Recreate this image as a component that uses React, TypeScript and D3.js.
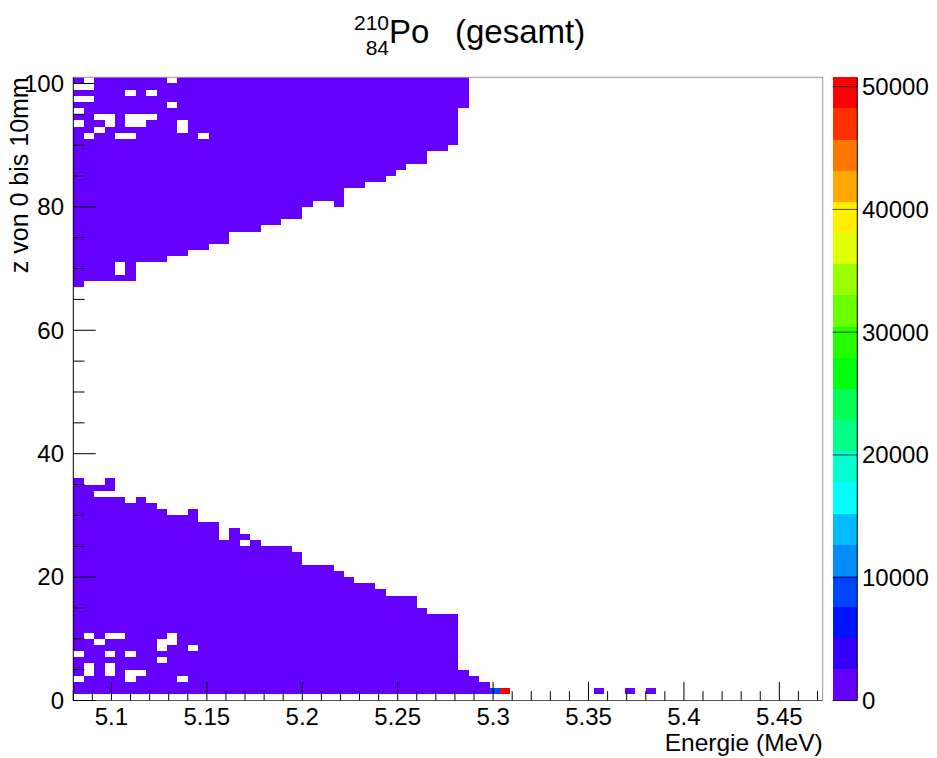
import * as d3 from 'd3';

// frame / palette geometry (pixels)
const W = 937, H = 758;
const frame = { left: 73.3, right: 822.7, top: 77.3, bottom: 700.5 };
const pal = { left: 832.5, right: 857.3 };
const font = 'Liberation Sans, Arial, Helvetica, sans-serif';

// binning
const xMin = 5.08;
const binW = 0.06 / 11;
const nBinsX = 72;
const zRange = 101;
const zMax = 50760;
const nContours = 20;

// upper block: [z bin, number of filled energy bins from the left]
const upperRowCounts = [
  [100, 38], [99, 38], [98, 38], [97, 38], [96, 38],
  [95, 37], [94, 37], [93, 37], [92, 37], [91, 37], [90, 37],
  [89, 36], [88, 34], [87, 34], [86, 32], [85, 31], [84, 30],
  [83, 28], [82, 26], [81, 26], [80, 23], [79, 22], [78, 22],
  [77, 20], [76, 18], [75, 15], [74, 15], [73, 13], [72, 11],
  [71, 9], [70, 6], [69, 6], [68, 6], [67, 1],
];

// lower block: highest filled z bin per energy bin (filled down to z bin 1)
const lowerColTops = [
  35, 34, 34, 35, 32, 31, 32, 31, 30, 29, 29, 30, 28, 28, 25, 27, 26, 25, 24, 24,
  24, 23, 21, 21, 21, 20, 19, 18, 18, 17, 16, 16, 16, 14, 13, 13, 13, 4, 3, 2,
];

// empty bins inside the blocks: [energy bin, z bin]
const holes = [
  [1, 100], [9, 100], [0, 99], [1, 99], [5, 98], [7, 98], [0, 97], [1, 97],
  [9, 96], [0, 95], [2, 94], [3, 94], [5, 94], [6, 94], [7, 94],
  [0, 93], [3, 93], [5, 93], [6, 93], [10, 93], [2, 92], [10, 92],
  [1, 91], [4, 91], [5, 91], [12, 91], [4, 70], [4, 69],
  [2, 33], [3, 33], [16, 25],
  [1, 10], [3, 10], [4, 10], [9, 10], [2, 9], [8, 9], [9, 9], [8, 8], [11, 8],
  [0, 7], [3, 7], [5, 7], [8, 6], [1, 5], [3, 5], [1, 4], [3, 4], [5, 4], [6, 4],
  [0, 3], [5, 3], [10, 3],
];

// single bins outside the blocks: [energy bin, z bin, counts]
const extraCells = [
  [25, 80, 1000], [40, 1, 9000], [41, 1, 49000],
  [50, 1, 1000], [53, 1, 1000], [55, 1, 1000],
];
const baseCount = 1000;

const xMajorTicks = [5.1, 5.15, 5.2, 5.25, 5.3, 5.35, 5.4, 5.45];
const xTickLabels = ['5.1', '5.15', '5.2', '5.25', '5.3', '5.35', '5.4', '5.45'];
const yMajorTicks = [0, 20, 40, 60, 80, 100];
const zTicks = [0, 10000, 20000, 30000, 40000, 50000];

function bandColor(band: number) {
  const j = Math.floor((band + 0.99) * 50 / nContours);
  const hue = 280 - (j + 1) * (280 / 50);
  return d3.hsl(hue, 1, 0.5).formatHex();
}

export default function App() {
  const x = d3.scaleLinear().domain([xMin, xMin + nBinsX * binW]).range([frame.left, frame.right]);
  const y = d3.scaleLinear().domain([0, zRange]).range([frame.bottom, frame.top]);
  const zs = d3.scaleLinear().domain([0, zMax]).range([frame.bottom, frame.top]);

  const cells = new Map<string, number>();
  upperRowCounts.forEach(([z, n]) => {
    for (let c = 0; c < n; c++) cells.set(c + ',' + z, baseCount);
  });
  lowerColTops.forEach((top, c) => {
    for (let z = 1; z <= top; z++) cells.set(c + ',' + z, baseCount);
  });
  holes.forEach(([c, z]) => cells.delete(c + ',' + z));
  extraCells.forEach(([c, z, v]) => cells.set(c + ',' + z, v));

  const bandW = zMax / nContours;
  const rects: any[] = [];
  cells.forEach((v, key) => {
    const [c, z] = key.split(',').map(Number);
    const band = Math.min(nContours - 1, Math.floor(v / bandW));
    rects.push({ c, z, fill: bandColor(band) });
  });

  const xMinor = d3.range(0, 40).map(i => 5.08 + i * 0.01);
  const yMinor = d3.range(0, 101, 5);

  return (
    <svg width={W} height={H} style={{ position: 'absolute', left: 0, top: 0, background: '#fff' }}
      fontFamily={font}>
      <g shapeRendering="crispEdges">
        {rects.map((r, i) => (
          <rect key={i} x={x(xMin + r.c * binW)} y={y(r.z + 1)}
            width={x(xMin + (r.c + 1) * binW) - x(xMin + r.c * binW)}
            height={y(r.z) - y(r.z + 1)} fill={r.fill} />
        ))}
      </g>

      {/* frame */}
      <line x1={frame.left} x2={frame.right} y1={frame.top} y2={frame.top} stroke="#999" />
      <line x1={frame.right} x2={frame.right} y1={frame.top} y2={frame.bottom} stroke="#999" />
      <line x1={frame.left} x2={frame.right} y1={frame.bottom} y2={frame.bottom} stroke="#555" />
      <line x1={frame.left} x2={frame.left} y1={frame.top} y2={frame.bottom} stroke="#000" />

      {/* x axis ticks */}
      {xMinor.map((t, i) => {
        const major = xMajorTicks.some(m => Math.abs(m - t) < 1e-6);
        return <line key={'xm' + i} x1={x(t)} x2={x(t)} y1={frame.bottom}
          y2={frame.bottom - (major ? 18.7 : 9.3)} stroke="#000" />;
      })}
      {xMajorTicks.map((t, i) => (
        <text key={'xl' + i} x={x(t)} y={725} fontSize={24} textAnchor="middle">{xTickLabels[i]}</text>
      ))}
      <text x={frame.right} y={751} fontSize={24.5} textAnchor="end">Energie (MeV)</text>

      {/* y axis ticks */}
      {yMinor.map((t, i) => {
        const major = yMajorTicks.includes(t);
        return <line key={'ym' + i} x1={frame.left} x2={frame.left + (major ? 22.5 : 11.2)}
          y1={y(t)} y2={y(t)} stroke="#000" />;
      })}
      {yMajorTicks.map((t, i) => (
        <text key={'yl' + i} x={64} y={y(t)} dy="0.35em" fontSize={24} textAnchor="end">{t}</text>
      ))}
      <text transform={`translate(28,${frame.top}) rotate(-90)`} fontSize={25} textAnchor="end">
        z von 0 bis 10mm
      </text>

      {/* palette */}
      <g shapeRendering="crispEdges">
        {d3.range(nContours).map(b => (
          <rect key={'p' + b} x={pal.left} width={pal.right - pal.left}
            y={zs((b + 1) * bandW)} height={zs(b * bandW) - zs((b + 1) * bandW)} fill={bandColor(b)} />
        ))}
      </g>
      <line x1={pal.right} x2={pal.right} y1={frame.top} y2={frame.bottom} stroke="#000" />
      {zTicks.map((t, i) => (
        <g key={'z' + i}>
          <line x1={pal.left} x2={pal.right} y1={zs(t)} y2={zs(t)} stroke="#000" strokeOpacity={0.7} />
          <text x={862} y={zs(t)} dy="0.35em" fontSize={24}>{t}</text>
        </g>
      ))}

      {/* title */}
      <text x={389} y={30} fontSize={21} textAnchor="end">210</text>
      <text x={389} y={55} fontSize={21} textAnchor="end">84</text>
      <text x={389} y={43.3} fontSize={33}>Po</text>
      <text x={455} y={43.3} fontSize={33}>(gesamt)</text>
    </svg>
  );
}
